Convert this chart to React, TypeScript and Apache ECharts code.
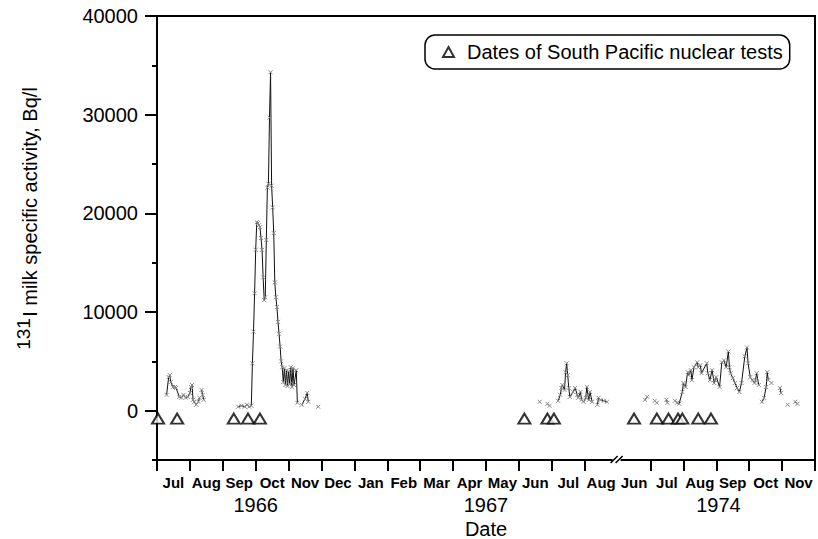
import React, { useEffect, useRef } from 'react';
import * as echarts from 'echarts';

const FONT = '"Liberation Sans", Arial, Helvetica, sans-serif';

// x-axis month categories (compressed time axis with a break after Aug 1967)
const MONTHS = ['Jul', 'Aug', 'Sep', 'Oct', 'Nov', 'Dec', 'Jan', 'Feb', 'Mar', 'Apr', 'May', 'Jun', 'Jul', 'Aug', 'Jun', 'Jul', 'Aug', 'Sep', 'Oct', 'Nov'];
const BREAK_INDEX = 14;
const YEARS = ['1966', '1967', '1974'];
const YEAR_AT = ['1966-10-01', '1967-05-01', '1974-09-03'];

const Y_TICKS_MAJOR = [0, 10000, 20000, 30000, 40000];

const TEST_NAME = 'Dates of South Pacific nuclear tests';
const TEST_DATES = [
  '1966-07-02', '1966-07-20', '1966-09-11', '1966-09-24', '1966-10-05',
  '1967-06-06', '1967-06-27', '1967-07-03',
  '1974-06-16', '1974-07-07', '1974-07-18', '1974-07-27', '1974-07-31', '1974-08-15', '1974-08-27',
];
const TEST_MARK_LEVEL = -800;

// 131I milk activity, Bq/l (segments = separately connected runs of samples)
const S1966_SUMMER: [string, number][] = [
  ['1966-07-10', 1600], ['1966-07-12', 3400], ['1966-07-13', 3600], ['1966-07-14', 2900], ['1966-07-16', 2400],
  ['1966-07-18', 2400], ['1966-07-19', 2300], ['1966-07-22', 1400], ['1966-07-24', 1300], ['1966-07-26', 1600],
  ['1966-07-28', 1300], ['1966-07-30', 1400], ['1966-08-01', 1800], ['1966-08-02', 2400], ['1966-08-03', 2600],
  ['1966-08-04', 1100], ['1966-08-05', 900], ['1966-08-07', 600], ['1966-08-09', 900], ['1966-08-10', 1300],
];
const S1966_AUG_END: [string, number][] = [
  ['1966-08-12', 2100], ['1966-08-13', 1600], ['1966-08-14', 1100],
];
const S1966_AUTUMN: [string, number][] = [
  ['1966-09-15', 400], ['1966-09-18', 500], ['1966-09-21', 400], ['1966-09-23', 600], ['1966-09-25', 400],
  ['1966-09-27', 500], ['1966-09-28', 4800], ['1966-09-29', 8000], ['1966-09-30', 11900], ['1966-10-01', 16300],
  ['1966-10-02', 19100], ['1966-10-03', 19000], ['1966-10-04', 18800], ['1966-10-05', 18600], ['1966-10-06', 17500],
  ['1966-10-07', 16300], ['1966-10-08', 13500], ['1966-10-09', 11200], ['1966-10-10', 11500], ['1966-10-11', 17300],
  ['1966-10-12', 22600], ['1966-10-13', 23000], ['1966-10-14', 29700], ['1966-10-15', 34300], ['1966-10-16', 22800],
  ['1966-10-17', 20600], ['1966-10-18', 18000], ['1966-10-19', 13000], ['1966-10-20', 11500], ['1966-10-21', 10500],
  ['1966-10-22', 9000], ['1966-10-23', 7800], ['1966-10-24', 6500], ['1966-10-25', 5000], ['1966-10-26', 4400],
  ['1966-10-27', 2900], ['1966-10-28', 4300], ['1966-10-29', 2600], ['1966-10-30', 4100], ['1966-10-31', 2500],
  ['1966-11-01', 4000], ['1966-11-02', 2700], ['1966-11-03', 4400], ['1966-11-04', 2400], ['1966-11-05', 4300],
  ['1966-11-06', 2600], ['1966-11-08', 4100], ['1966-11-09', 800],
];
const S1966_NOV: [string, number][] = [
  ['1966-11-13', 600], ['1966-11-16', 1200], ['1966-11-18', 1800], ['1966-11-19', 900],
];
const S1966_NOV_END: [string, number][] = [['1966-11-28', 400]];

const S1967_JUN_A: [string, number][] = [['1967-06-20', 900]];
const S1967_JUN_B: [string, number][] = [['1967-06-27', 700], ['1967-06-29', 500]];
const S1967_SUMMER: [string, number][] = [
  ['1967-07-07', 1000], ['1967-07-09', 1600], ['1967-07-10', 2300], ['1967-07-11', 2600], ['1967-07-13', 2100],
  ['1967-07-14', 3900], ['1967-07-15', 4800], ['1967-07-16', 3600], ['1967-07-17', 2300], ['1967-07-18', 1400],
  ['1967-07-21', 1900], ['1967-07-23', 2300], ['1967-07-25', 1600], ['1967-07-26', 1300], ['1967-07-28', 1900],
  ['1967-07-29', 1100], ['1967-07-31', 900], ['1967-08-02', 1300], ['1967-08-03', 2400], ['1967-08-04', 1600],
  ['1967-08-05', 1100], ['1967-08-06', 1900], ['1967-08-08', 900],
];
const S1967_AUG: [string, number][] = [
  ['1967-08-13', 600], ['1967-08-14', 1300], ['1967-08-16', 1100], ['1967-08-19', 1000], ['1967-08-22', 900],
];

const S1974_A: [string, number][] = [['1974-06-26', 1100], ['1974-06-28', 1400]];
const S1974_B: [string, number][] = [['1974-07-05', 1000], ['1974-07-07', 800]];
const S1974_C: [string, number][] = [['1974-07-16', 1100], ['1974-07-17', 800]];
const S1974_MAIN: [string, number][] = [
  ['1974-07-24', 1000], ['1974-07-26', 800], ['1974-07-28', 700], ['1974-07-31', 1900], ['1974-08-01', 2800],
  ['1974-08-03', 2400], ['1974-08-05', 3900], ['1974-08-06', 3600], ['1974-08-08', 4100], ['1974-08-09', 3100],
  ['1974-08-11', 4400], ['1974-08-14', 4900], ['1974-08-15', 4400], ['1974-08-17', 4600], ['1974-08-18', 3800],
  ['1974-08-23', 4800], ['1974-08-24', 3800], ['1974-08-26', 3100], ['1974-08-28', 4100], ['1974-08-30', 2800],
  ['1974-08-31', 3100], ['1974-09-01', 3400], ['1974-09-04', 2400], ['1974-09-06', 4900], ['1974-09-08', 5100],
  ['1974-09-10', 4400], ['1974-09-12', 6000], ['1974-09-13', 4400], ['1974-09-14', 3800], ['1974-09-16', 3300],
  ['1974-09-18', 2800], ['1974-09-20', 2300], ['1974-09-22', 1900], ['1974-09-24', 2800], ['1974-09-27', 5500],
  ['1974-09-29', 6400], ['1974-09-30', 4800], ['1974-10-02', 3400], ['1974-10-04', 3100], ['1974-10-06', 2800],
  ['1974-10-07', 3100], ['1974-10-08', 3800], ['1974-10-10', 2600],
];
const S1974_OCT: [string, number][] = [
  ['1974-10-13', 900], ['1974-10-15', 1300], ['1974-10-17', 2400], ['1974-10-18', 3900], ['1974-10-19', 3100],
];
const S1974_OCT_B: [string, number][] = [['1974-10-22', 2800]];
const S1974_OCT_C: [string, number][] = [['1974-10-30', 2300], ['1974-10-31', 1800]];
const S1974_NOV_A: [string, number][] = [['1974-11-06', 600]];
const S1974_NOV_B: [string, number][] = [['1974-11-13', 900], ['1974-11-15', 700]];

const SEGMENTS = [
  S1966_SUMMER, S1966_AUG_END, S1966_AUTUMN, S1966_NOV, S1966_NOV_END,
  S1967_JUN_A, S1967_JUN_B, S1967_SUMMER, S1967_AUG,
  S1974_A, S1974_B, S1974_C, S1974_MAIN, S1974_OCT, S1974_OCT_B, S1974_OCT_C, S1974_NOV_A, S1974_NOV_B,
];

// position on the compressed month axis (Jul 1966 = 0 ... Aug 1967 = 13, Jun 1974 = 14 ...)
function pos(d: string): number {
  const [y, m, day] = d.split('-').map(Number);
  const dim = new Date(y, m, 0).getDate();
  const base = y < 1970 ? (y - 1966) * 12 + (m - 7) : BREAK_INDEX + (m - 6);
  return base + (day - 1) / dim;
}

const GRID_LEFT = 157;
const GRID_RIGHT = 3;
const GRID_TOP = 16;
const GRID_H = 444;
const Y_MIN = -5000;
const Y_MAX = 40000;

export default function App() {
  const ref = useRef<HTMLDivElement>(null);
  useEffect(() => {
    if (!ref.current) return;
    const chart = echarts.init(ref.current, undefined, { renderer: 'svg' });
    const lineSeries = SEGMENTS.map((seg) => ({
      type: 'line',
      xAxisIndex: 0,
      yAxisIndex: 0,
      data: seg.map(([d, v]) => [pos(d), v]),
      symbol: 'path://M0,0L10,10M10,0L0,10',
      symbolSize: 4,
      showSymbol: true,
      itemStyle: { color: '#8a8a8a', borderColor: '#8a8a8a', borderWidth: 1 },
      lineStyle: { color: '#111', width: 1 },
      silent: true,
      z: 2,
    }));
    chart.setOption({
      animation: false,
      backgroundColor: '#fff',
      textStyle: { fontFamily: FONT },
      grid: [
        {
          left: GRID_LEFT, right: GRID_RIGHT, top: GRID_TOP, height: GRID_H,
          show: true, borderColor: '#000', borderWidth: 2, backgroundColor: 'transparent',
          containLabel: false, outerBoundsMode: 'none',
        },
        {
          left: GRID_LEFT, right: GRID_RIGHT, top: GRID_TOP, height: GRID_H * (Y_MAX / (Y_MAX - Y_MIN)),
          containLabel: false, outerBoundsMode: 'none',
        },
      ],
      legend: {
        data: [TEST_NAME],
        left: 425,
        top: 35,
        padding: [7, 7, 7, 17],
        itemWidth: 11,
        itemHeight: 10,
        borderColor: '#000',
        borderWidth: 1.5,
        borderRadius: 10,
        backgroundColor: '#fff',
        textStyle: { fontSize: 20, color: '#000', fontFamily: FONT, padding: [0, 0, 0, 8] },
      },
      xAxis: [
        { type: 'value', gridIndex: 0, min: 0, max: MONTHS.length, show: false, position: 'top' },
        {
          type: 'category',
          gridIndex: 0,
          position: 'bottom',
          data: MONTHS,
          boundaryGap: true,
          axisLine: { show: true, lineStyle: { color: '#000', width: 2 } },
          axisTick: { show: true, length: 11, lineStyle: { color: '#000', width: 2 }, interval: (i: number) => i !== BREAK_INDEX },
          axisLabel: { interval: 0, fontSize: 15, fontWeight: 'bold', color: '#000', margin: 15, fontFamily: FONT },
          splitLine: { show: false },
          name: 'Date',
          nameLocation: 'middle',
          nameGap: 60,
          nameTextStyle: { fontSize: 20, lineHeight: 18, color: '#000', fontFamily: FONT },
        },
        { type: 'value', gridIndex: 1, min: 0, max: MONTHS.length, show: false },
      ],
      yAxis: [
        {
          type: 'value',
          gridIndex: 0,
          min: Y_MIN,
          max: Y_MAX,
          interval: 5000,
          axisLine: { show: true, lineStyle: { color: '#000', width: 2 } },
          axisTick: { show: true, length: 5, lineStyle: { color: '#000', width: 2 } },
          axisLabel: {
            fontSize: 20,
            color: '#000',
            margin: 19,
            fontFamily: FONT,
            formatter: (v: number) => (Y_TICKS_MAJOR.indexOf(v) >= 0 ? String(v) : ''),
          },
          splitLine: { show: false },
        },
        {
          type: 'value',
          gridIndex: 1,
          min: 0,
          max: Y_MAX,
          interval: 10000,
          axisLine: { show: false },
          axisTick: { show: true, length: 12, lineStyle: { color: '#000', width: 2 } },
          axisLabel: { show: false },
          splitLine: { show: false },
        },
      ],
      series: [
        ...lineSeries,
        {
          name: TEST_NAME,
          type: 'scatter',
          xAxisIndex: 0,
          yAxisIndex: 0,
          data: TEST_DATES.map((d) => [pos(d), TEST_MARK_LEVEL]),
          symbol: 'triangle',
          symbolSize: [12, 10],
          itemStyle: { color: '#fff', borderColor: '#000', borderWidth: 2 },
          z: 5,
        },
      ],
    });

    const xPx = (v: number) => chart.convertToPixel({ xAxisIndex: 0 }, v) as number;
    const axisY = GRID_TOP + GRID_H;
    const bx = xPx(BREAK_INDEX);
    const graphic: any[] = YEARS.map((t, i) => ({
      type: 'text',
      x: xPx(pos(YEAR_AT[i])),
      y: 505,
      style: { text: t, fontSize: 20, fill: '#000', align: 'center', verticalAlign: 'middle', fontFamily: FONT },
    }));
    graphic.push(
      { type: 'rect', shape: { x: bx - 5, y: axisY - 2, width: 8, height: 4 }, style: { fill: '#fff' }, z: 100 },
      { type: 'line', shape: { x1: bx - 7, y1: axisY + 3, x2: bx, y2: axisY - 4 }, style: { stroke: '#000', lineWidth: 1.5 }, z: 101 },
      { type: 'line', shape: { x1: bx - 2, y1: axisY + 3, x2: bx + 5, y2: axisY - 4 }, style: { stroke: '#000', lineWidth: 1.5 }, z: 101 },
      {
        type: 'text',
        x: 30,
        y: 202,
        rotation: Math.PI / 2,
        style: {
          text: 'I milk specific activity, Bq/l',
          fontSize: 20,
          align: 'center',
          verticalAlign: 'middle',
          fill: '#000',
          fontFamily: FONT,
        },
      },
      {
        type: 'text',
        x: 23,
        y: 334,
        rotation: Math.PI / 2,
        style: {
          text: '131',
          fontSize: 19,
          align: 'center',
          verticalAlign: 'middle',
          fill: '#000',
          fontFamily: FONT,
        },
      },
    );
    chart.setOption({ graphic });

    return () => chart.dispose();
  }, []);
  return <div ref={ref} style={{ position: 'fixed', left: 0, top: 0, width: 818, height: 539 }} />;
}
